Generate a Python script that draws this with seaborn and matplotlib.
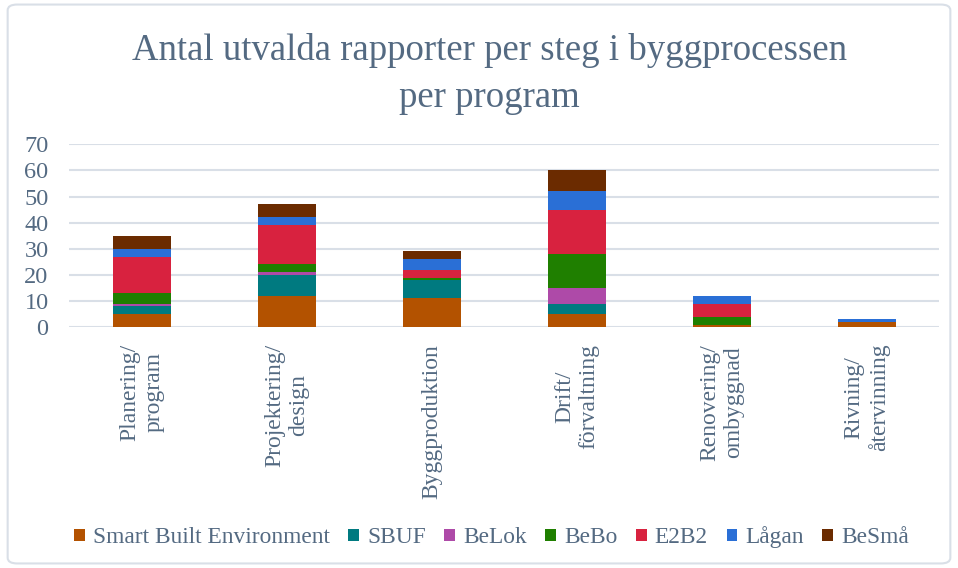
import pandas as pd
import matplotlib.pyplot as plt
import seaborn as sns
from matplotlib.patches import FancyBboxPatch

# Data
steg = ["Planering/\nprogram", "Projektering/\ndesign", "Byggproduktion",
        "Drift/\nförvaltning", "Renovering/\nombyggnad", "Rivning/\nåtervinning"]
program = ["Smart Built Environment", "SBUF", "BeLok", "BeBo", "E2B2", "Lågan", "BeSmå"]
smart_built = [5, 12, 11, 5, 1, 2]
sbuf = [3, 8, 7, 4, 0, 0]
belok = [1, 1, 0, 6, 0, 0]
bebo = [4, 3, 1, 13, 3, 0]
e2b2 = [14, 15, 3, 17, 5, 0]
lagan = [3, 3, 4, 7, 3, 1]
besma = [5, 5, 3, 8, 0, 0]
farger = ["#B35200", "#007A80", "#AE4AA8", "#1F7F00", "#D8223F", "#2A6FD6", "#6B2B00"]

serier = [smart_built, sbuf, belok, bebo, e2b2, lagan, besma]
rows = []
for namn, vals in zip(program, serier):
    for s, v in zip(steg, vals):
        rows.append({"Steg": s, "Program": namn, "Antal": v})
df = pd.DataFrame(rows)

textfarg = "#546A82"
gridfarg = "#D9DFE7"

sns.set_theme(style="white")
plt.rcParams["font.family"] = ["Liberation Serif", "DejaVu Serif"]

fig = plt.figure(figsize=(9.58, 5.68), dpi=100)
ax = fig.add_axes([0.0725, 0.424, 0.908, 0.322])

bottom = pd.Series([0] * len(steg), index=steg, dtype=float)
for namn, farg in zip(program, farger):
    d = df[df["Program"] == namn].set_index("Steg").loc[steg]
    sns.barplot(x=d.index, y=d["Antal"].values, color=farg, width=0.4,
                bottom=bottom.values, ax=ax, label=namn, saturation=1,
                linewidth=0)
    bottom += d["Antal"].values

ax.set_ylim(0, 70)
ax.set_yticks(range(0, 71, 10))
ax.set_xlim(-0.5, len(steg) - 0.5)
ax.yaxis.grid(True, color=gridfarg, linewidth=1.5)
ax.set_axisbelow(True)
for sp in ax.spines.values():
    sp.set_visible(False)
ax.set_xlabel("")
ax.set_ylabel("")
ax.tick_params(axis="y", labelsize=17.5, labelcolor=textfarg, pad=15, length=0)
ax.tick_params(axis="x", length=0, pad=12)
ax.set_xticks(range(len(steg)))
ax.set_xticklabels(steg, rotation=90, fontsize=17, color=textfarg,
                   ha="center", va="top", multialignment="center",
                   linespacing=1.2)

fig.text(0.511, 0.894, "Antal utvalda rapporter per steg i byggprocessen",
         ha="center", va="baseline", fontsize=26.5, color=textfarg)
fig.text(0.511, 0.812, "per program",
         ha="center", va="baseline", fontsize=26.5, color=textfarg)

leg = fig.legend(*ax.get_legend_handles_labels(), loc="center", bbox_to_anchor=(0.513, 0.054),
                 ncol=7, frameon=False, fontsize=16.8, handlelength=0.45, handleheight=0.45,
                 handletextpad=0.35, columnspacing=0.8)
for t in leg.get_texts():
    t.set_color(textfarg)
if ax.get_legend():
    ax.get_legend().remove()

fig.patches.append(FancyBboxPatch((0.008, 0.008), 0.984, 0.984,
                                  boxstyle="round,pad=0,rounding_size=0.01",
                                  transform=fig.transFigure, fill=False,
                                  edgecolor=gridfarg, linewidth=1.5))

fig.savefig("out.png", dpi=100)
